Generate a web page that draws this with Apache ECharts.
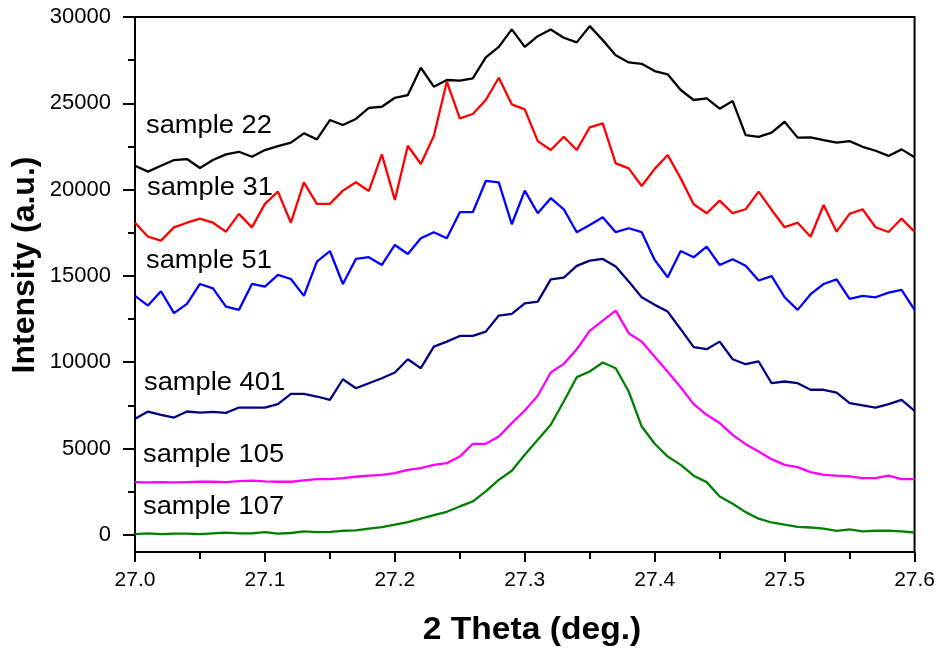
<!DOCTYPE html>
<html>
<head>
<meta charset="utf-8">
<script src="https://cdn.jsdelivr.net/npm/echarts@6/dist/echarts.min.js"></script>
<style>
  html, body { margin: 0; padding: 0; background: #fff; }
  #chart { width: 938px; height: 649px; }
</style>
</head>
<body>
<div id="chart"></div>
<script>
// 2-theta positions (deg.)
const theta = [
  27.00, 27.01, 27.02, 27.03, 27.04, 27.05, 27.06, 27.07, 27.08, 27.09,
  27.10, 27.11, 27.12, 27.13, 27.14, 27.15, 27.16, 27.17, 27.18, 27.19,
  27.20, 27.21, 27.22, 27.23, 27.24, 27.25, 27.26, 27.27, 27.28, 27.29,
  27.30, 27.31, 27.32, 27.33, 27.34, 27.35, 27.36, 27.37, 27.38, 27.39,
  27.40, 27.41, 27.42, 27.43, 27.44, 27.45, 27.46, 27.47, 27.48, 27.49,
  27.50, 27.51, 27.52, 27.53, 27.54, 27.55, 27.56, 27.57, 27.58, 27.59, 27.60
];

// Intensities (a.u.), one array per sample, stacked with vertical offsets
const sample22 = [
  21380, 21040, 21380, 21710, 21770, 21250, 21710, 22040, 22190, 21900,
  22290, 22520, 22720, 23260, 22910, 24030, 23740, 24090, 24740, 24800,
  25320, 25480, 27060, 25960, 26350, 26310, 26440, 27660, 28270, 29280,
  28270, 28890, 29280, 28800, 28530, 29470, 28660, 27790, 27370, 27290,
  26870, 26680, 25770, 25190, 25290, 24690, 25130, 23160, 23050, 23300,
  23930, 23010, 23030, 22870, 22720, 22810, 22480, 22250, 21950, 22330, 21870
];
const sample31 = [
  18080, 17270, 17040, 17810, 18080, 18320, 18080, 17560, 18590, 17810,
  19170, 19880, 18080, 20420, 19170, 19170, 19940, 20420, 19920, 22040,
  19400, 22540, 21480, 23100, 26250, 24130, 24380, 25190, 26480, 24940,
  24650, 22810, 22290, 23060, 22290, 23610, 23840, 21520, 21230, 20210,
  21200, 22000, 20650, 19150, 18630, 19360, 18630, 18860, 19880, 18820,
  17820, 18080, 17270, 19110, 17560, 18590, 18860, 17820, 17540, 18320, 17560
];
const sample51 = [
  13840, 13280, 14110, 12840, 13380, 14530, 14280, 13220, 13030, 14530,
  14380, 15060, 14820, 13840, 15830, 16440, 14530, 15980, 16080, 15630,
  16790, 16270, 17180, 17530, 17180, 18690, 18690, 20500, 20420, 17990,
  19940, 18630, 19500, 18860, 17530, 17950, 18390, 17530, 17760, 17530,
  15920, 14920, 16440, 16080, 16690, 15630, 15960, 15590, 14730, 14990,
  13760, 13030, 13940, 14530, 14800, 13670, 13840, 13760, 14030, 14190, 13030
];
const sample401 = [
  6720, 7140, 6950, 6790, 7140, 7080, 7120, 7060, 7370, 7370,
  7370, 7570, 8160, 8160, 8010, 7820, 9010, 8490, 8780, 9070,
  9400, 10170, 9650, 10900, 11190, 11520, 11520, 11770, 12700, 12800,
  13410, 13510, 14800, 14900, 15580, 15880, 15980, 15540, 14670, 13760,
  13320, 12930, 11910, 10870, 10750, 11190, 10170, 9880, 10040, 8780,
  8880, 8780, 8400, 8400, 8240, 7630, 7490, 7370, 7570, 7820, 7180
];
const sample105 = [
  3050, 3030, 3050, 3030, 3050, 3070, 3070, 3050, 3110, 3130,
  3090, 3070, 3070, 3150, 3220, 3220, 3280, 3360, 3420, 3470,
  3570, 3760, 3860, 4050, 4150, 4530, 5270, 5270, 5690, 6470,
  7200, 8050, 9400, 9900, 10750, 11810, 12410, 12990, 11680, 11190,
  10320, 9450, 8550, 7570, 6950, 6470, 5790, 5250, 4820, 4380,
  4050, 3920, 3630, 3470, 3420, 3380, 3280, 3280, 3420, 3220, 3220
];
const sample107 = [
  40, 80, 40, 60, 60, 40, 80, 120, 80, 80,
  150, 60, 100, 190, 150, 170, 230, 250, 350, 440,
  580, 730, 930, 1140, 1330, 1640, 1930, 2510, 3180, 3710,
  4630, 5500, 6370, 7720, 9130, 9460, 9980, 9650, 8300, 6270,
  5270, 4530, 4050, 3420, 3050, 2220, 1800, 1310, 930, 710,
  580, 460, 420, 350, 230, 310, 190, 230, 230, 190, 130
];

// Axis ticks
const xMajorTicks = [27.0, 27.1, 27.2, 27.3, 27.4, 27.5, 27.6];
const xMinorTicks = [27.05, 27.15, 27.25, 27.35, 27.45, 27.55];
const yMajorTicks = [0, 5000, 10000, 15000, 20000, 25000, 30000];
const yMinorTicks = [2500, 7500, 12500, 17500, 22500, 27500];

const seriesDefs = [
  { name: 'sample 22',  data: sample22,  color: '#000000' },
  { name: 'sample 31',  data: sample31,  color: '#ff0000' },
  { name: 'sample 51',  data: sample51,  color: '#0000ff' },
  { name: 'sample 401', data: sample401, color: '#000080' },
  { name: 'sample 105', data: sample105, color: '#ff00ff' },
  { name: 'sample 107', data: sample107, color: '#008000' }
];

// Where each curve's name is written (left edge, middle line)
const labelSpots = [
  { x: 146, y: 125.5 },
  { x: 147, y: 188 },
  { x: 146, y: 261 },
  { x: 144, y: 383 },
  { x: 143, y: 454.5 },
  { x: 143, y: 506.5 }
];

const FONT = '"Liberation Sans", Arial, sans-serif';

const chart = echarts.init(document.getElementById('chart'), null, { renderer: 'canvas' });

const axisLineStyle = { color: '#000', width: 2 };

const option = {
  animation: false,
  backgroundColor: '#fff',
  grid: {
    left: 135, right: 23, top: 17, bottom: 97,
    show: true, borderColor: '#000', borderWidth: 2, backgroundColor: 'transparent'
  },
  xAxis: [
    {
      type: 'value', min: 27.0, max: 27.6, position: 'bottom',
      axisLine: { show: true, onZero: false, lineStyle: axisLineStyle },
      axisTick: { show: true, inside: false, customValues: xMajorTicks, length: 10, lineStyle: axisLineStyle },
      axisLabel: {
        customValues: xMajorTicks, margin: 18,
        formatter: v => v.toFixed(1),
        fontSize: 21, fontFamily: FONT, color: '#000'
      },
      splitLine: { show: false }
    },
    {
      type: 'value', min: 27.0, max: 27.6, position: 'bottom',
      axisLine: { show: false, onZero: false },
      axisTick: { show: true, inside: false, customValues: xMinorTicks, length: 7, lineStyle: axisLineStyle },
      axisLabel: { show: false },
      splitLine: { show: false }
    }
  ],
  yAxis: [
    {
      type: 'value', min: -1000, max: 30000, position: 'left',
      axisLine: { show: true, onZero: false, lineStyle: axisLineStyle },
      axisTick: { show: true, inside: false, customValues: yMajorTicks, length: 12, lineStyle: axisLineStyle },
      axisLabel: {
        customValues: yMajorTicks, margin: 24,
        formatter: v => String(v),
        fontSize: 22, fontFamily: FONT, color: '#000',
        padding: [3, 0, 0, 0]
      },
      splitLine: { show: false }
    },
    {
      type: 'value', min: -1000, max: 30000, position: 'left',
      axisLine: { show: false, onZero: false },
      axisTick: { show: true, inside: false, customValues: yMinorTicks, length: 7, lineStyle: axisLineStyle },
      axisLabel: { show: false },
      splitLine: { show: false }
    }
  ],
  series: seriesDefs.map(s => ({
    name: s.name,
    type: 'line',
    xAxisIndex: 0,
    yAxisIndex: 0,
    data: theta.map((t, i) => [t, s.data[i]]),
    showSymbol: false,
    symbol: 'none',
    lineStyle: { color: s.color, width: 2.3 },
    itemStyle: { color: s.color },
    clip: true
  })),
  graphic: [
    // axis titles
    {
      type: 'text', x: 532, y: 630, scaleX: 1.05, silent: true,
      style: {
        text: '2 Theta (deg.)', font: 'bold 32px ' + FONT, fill: '#000',
        align: 'center', verticalAlign: 'middle',
        textAlign: 'center', textVerticalAlign: 'middle'
      }
    },
    {
      type: 'text', x: 25, y: 265, rotation: Math.PI / 2, silent: true,
      style: {
        text: 'Intensity (a.u.)', font: 'bold 32px ' + FONT, fill: '#000',
        align: 'center', verticalAlign: 'middle',
        textAlign: 'center', textVerticalAlign: 'middle'
      }
    }
  ].concat(seriesDefs.map((s, i) => ({
    type: 'text', x: labelSpots[i].x, y: labelSpots[i].y, scaleX: 1.07, silent: true,
    style: {
      text: s.name, font: '25.5px ' + FONT, fill: '#000',
      align: 'left', verticalAlign: 'middle',
      textAlign: 'left', textVerticalAlign: 'middle'
    }
  })))
};

chart.setOption(option);
</script>
</body>
</html>
